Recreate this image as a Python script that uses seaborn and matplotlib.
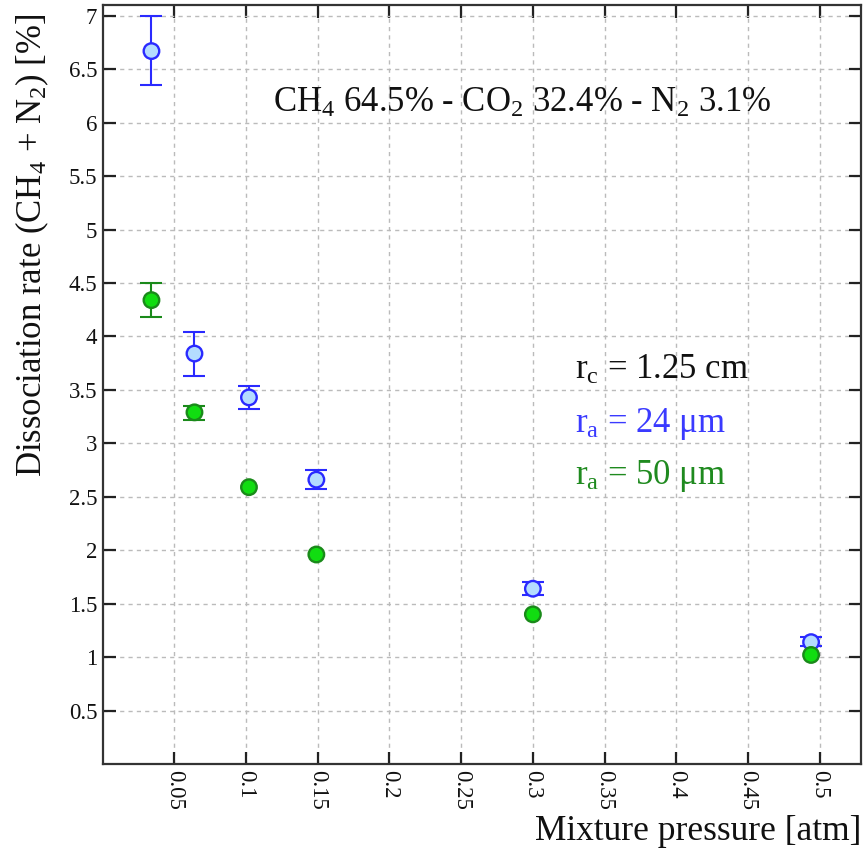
import numpy as np
import pandas as pd
import matplotlib
matplotlib.use("Agg")
import matplotlib.pyplot as plt
import seaborn as sns

# Mixture pressure [atm]
pressure = [0.034, 0.064, 0.102, 0.149, 0.300, 0.494]

# Dissociation rate [%] and error bar bounds, anode radius 24 um
rate_24 = [6.67, 3.84, 3.43, 2.66, 1.64, 1.14]
low_24 = [6.35, 3.63, 3.32, 2.57, 1.58, 1.10]
high_24 = [7.00, 4.04, 3.54, 2.75, 1.70, 1.19]

# Dissociation rate [%] and error bar bounds, anode radius 50 um
rate_50 = [4.34, 3.29, 2.59, 1.96, 1.40, 1.02]
low_50 = [4.18, 3.22, 2.59, 1.96, 1.40, 1.02]
high_50 = [4.50, 3.35, 2.59, 1.96, 1.40, 1.02]

x_ticks = [0.05, 0.1, 0.15, 0.2, 0.25, 0.3, 0.35, 0.4, 0.45, 0.5]
x_tick_labels = ["0.05", "0.1", "0.15", "0.2", "0.25", "0.3", "0.35", "0.4", "0.45", "0.5"]
y_ticks = [0.5, 1, 1.5, 2, 2.5, 3, 3.5, 4, 4.5, 5, 5.5, 6, 6.5, 7]
y_tick_labels = ["0.5", "1", "1.5", "2", "2.5", "3", "3.5", "4", "4.5", "5", "5.5", "6", "6.5", "7"]

sns.set_theme(style="white")
SERIF = ["Liberation Serif", "DejaVu Serif"]
plt.rcParams["font.family"] = SERIF
plt.rcParams["mathtext.fontset"] = "custom"
plt.rcParams["mathtext.rm"] = "Liberation Serif"
plt.rcParams["mathtext.it"] = "Liberation Serif:italic"
plt.rcParams["mathtext.bf"] = "Liberation Serif:bold"

df = pd.DataFrame({
    "pressure": pressure * 2,
    "rate": rate_24 + rate_50,
    "anode": ["24"] * len(pressure) + ["50"] * len(pressure),
})

fig = plt.figure(figsize=(8.63, 8.56), dpi=100)
ax = fig.add_axes([0.119, 0.1075, 0.879, 0.8865])

blue_edge = "#2a2aff"
blue_fill = "#b4dcff"
green_edge = "#1a8a1a"
green_fill = "#11dd11"

# error bars (only where the uncertainty is non-zero)
for rate, lo, hi, col in [(rate_24, low_24, high_24, blue_edge),
                          (rate_50, low_50, high_50, green_edge)]:
    r = np.array(rate)
    lo = np.array(lo)
    hi = np.array(hi)
    keep = (hi - lo) > 0
    p = np.array(pressure)[keep]
    yerr = np.vstack([(r - lo)[keep], (hi - r)[keep]])
    ax.errorbar(p, r[keep], yerr=yerr, fmt="none", ecolor=col,
                elinewidth=1.5, capsize=8, capthick=1.5, zorder=3)

# markers
sns.scatterplot(data=df, x="pressure", y="rate", hue="anode",
                palette={"24": blue_fill, "50": green_fill}, s=125,
                linewidth=1.7, ax=ax, legend=False, zorder=4)
coll = ax.collections[-1]
edge_cols = [blue_edge if a == "24" else green_edge for a in df["anode"]]
coll.set_edgecolors(edge_cols)

ax.set_xlim(0, 0.529)
ax.set_ylim(0, 7.1)
ax.set_xticks(x_ticks)
ax.set_xticklabels(x_tick_labels, rotation=270, fontsize=16.5, family=SERIF)
ax.set_yticks(y_ticks)
ax.set_yticklabels(y_tick_labels, fontsize=16.5, family=SERIF)
ax.tick_params(direction="in", length=9, width=1.6, color="#222222",
               labelcolor="#111111",
               top=True, right=True, bottom=True, left=True,
               labeltop=False, labelright=False, pad=4)

ax.grid(True, linestyle=(0, (3, 3)), color="#bbbbbb", linewidth=1.0)
ax.set_axisbelow(True)
for sp in ax.spines.values():
    sp.set_visible(True)
    sp.set_color("#333333")
    sp.set_linewidth(1.6)

ax.set_xlabel("Mixture pressure [atm]", fontsize=25.5, loc="right",
              labelpad=4, color="#111111")
ax.set_ylabel("Dissociation rate (CH$_4$ + N$_2$) [%]", fontsize=25,
              color="#111111")
ax.yaxis.set_label_coords(-0.068, 0.684)

ax.text(0.224, 0.871, "CH$_4$ 64.5% - CO$_2$ 32.4% - N$_2$ 3.1%",
        transform=ax.transAxes, fontsize=25, ha="left", va="center",
        color="#111111")
ax.text(0.623, 0.519, "r$_\\mathrm{c}$ = 1.25 cm", transform=ax.transAxes,
        fontsize=25, ha="left", va="center", color="#111111")
ax.text(0.623, 0.448, "r$_\\mathrm{a}$ = 24 μm", transform=ax.transAxes,
        fontsize=25, ha="left", va="center", color="#3a3aff")
ax.text(0.623, 0.379, "r$_\\mathrm{a}$ = 50 μm", transform=ax.transAxes,
        fontsize=25, ha="left", va="center", color="#1f8a1f")

fig.savefig("out.png", dpi=100)
